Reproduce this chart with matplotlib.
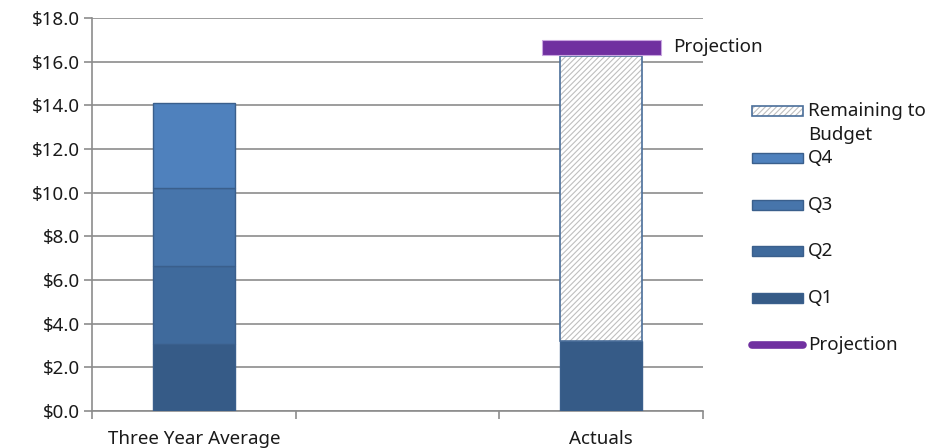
import matplotlib
matplotlib.use("Agg")
import matplotlib.pyplot as plt
import numpy as np
from matplotlib.patches import Rectangle
from matplotlib.lines import Line2D

plt.rcParams['font.family'] = ['Noto Sans', 'DejaVu Sans']
plt.rcParams['hatch.linewidth'] = 0.8

categories = ["Three Year Average", "", "Actuals"]
q1 = [3.05, np.nan, 3.2]
q2 = [3.6, np.nan, np.nan]
q3 = [3.55, np.nan, np.nan]
q4 = [3.9, np.nan, np.nan]
remaining = [np.nan, np.nan, 13.05]
projection_bottom = [np.nan, np.nan, 16.3]
projection_height = [np.nan, np.nan, 0.7]

colors = {"Q1": "#365B87", "Q2": "#3F6A9C", "Q3": "#4775AB", "Q4": "#4F81BD"}
edge = "#3A5F8C"
purple = "#7030A0"
grid_col = "#8C8C8C"
txt = "#1A1A1A"
fs = 13.5

fig = plt.figure(figsize=(9.3, 4.48), dpi=100)
W, H = 930, 448
ax = fig.add_axes([92 / W, 1 - 411 / H, 611 / W, 393 / H])

x = np.arange(len(categories))
w = 0.40
bottom = np.zeros(len(categories))
for name, vals in [("Q1", q1), ("Q2", q2), ("Q3", q3), ("Q4", q4)]:
    v = np.array(vals)
    ax.bar(x, v, w, bottom=bottom, color=colors[name], edgecolor=edge, linewidth=1, zorder=3)
    bottom += np.nan_to_num(v)

rem = np.array(remaining)
ax.bar(x, rem, w, bottom=bottom, color="white", edgecolor="#BFBFBF", hatch="//////", linewidth=0, zorder=3)
ax.bar(x, rem, w, bottom=bottom, fill=False, edgecolor="#4A6E9A", linewidth=1.2, zorder=4)

ax.bar(x, projection_height, 0.585, bottom=projection_bottom, color=purple, edgecolor="#C9A6E0",
       linewidth=0.8, zorder=5)
ax.text(2.352, 16.68, "Projection", fontsize=fs, va="center", ha="left", color=txt)

ax.set_xlim(-0.5, 2.5)
ax.set_ylim(0, 18)
yt = np.arange(0, 18.1, 2)
ax.set_yticks(yt)
ax.set_yticklabels([f"${v:.1f}" for v in yt], fontsize=fs, color=txt)
ax.yaxis.grid(True, color=grid_col, linewidth=1.2, zorder=0)
ax.set_axisbelow(True)

ax.set_xticks(x)
ax.set_xticklabels(categories, fontsize=fs, color=txt)
ax.set_xticks([-0.5, 0.5, 1.5, 2.5], minor=True)
ax.tick_params(axis='x', which='major', length=0, pad=14)
ax.tick_params(axis='x', which='minor', length=6, color=grid_col, width=1.2)
ax.tick_params(axis='y', length=6, color=grid_col, width=1.2, pad=3)

for s in ["top", "right"]:
    ax.spines[s].set_visible(False)
for s in ["left", "bottom"]:
    ax.spines[s].set_color(grid_col)
    ax.spines[s].set_linewidth(1.2)

# legend drawn by hand, Excel style
leg_labels = ["Remaining to", "Q4", "Q3", "Q2", "Q1"]
leg_faces = [None, colors["Q4"], colors["Q3"], colors["Q2"], colors["Q1"]]
leg_y = [111, 158, 205, 251, 298]
for lab, fc, py in zip(leg_labels, leg_faces, leg_y):
    if fc is None:
        r = Rectangle((752 / W, 1 - (py + 5) / H), 51 / W, 10 / H, transform=fig.transFigure,
                      facecolor="white", edgecolor="#BFBFBF", hatch="//////", linewidth=0)
        fig.patches.append(r)
        r = Rectangle((752 / W, 1 - (py + 5) / H), 51 / W, 10 / H, transform=fig.transFigure,
                      fill=False, edgecolor="#4A6E9A", linewidth=1.2)
        fig.patches.append(r)
    else:
        r = Rectangle((752 / W, 1 - (py + 5) / H), 51 / W, 10 / H, transform=fig.transFigure,
                      facecolor=fc, edgecolor=edge, linewidth=1)
        fig.patches.append(r)
    fig.text(808 / W, 1 - py / H, lab, fontsize=fs, va="center", ha="left", color=txt)
fig.text(808 / W, 1 - 135 / H, "Budget", fontsize=fs, va="center", ha="left", color=txt)

fig.lines.append(Line2D([752 / W, 803 / W], [1 - 345 / H, 1 - 345 / H], transform=fig.transFigure,
                        color=purple, linewidth=5.5, solid_capstyle="round"))
fig.text(808 / W, 1 - 345 / H, "Projection", fontsize=fs, va="center", ha="left", color=txt)

fig.savefig("out.png", dpi=100)
